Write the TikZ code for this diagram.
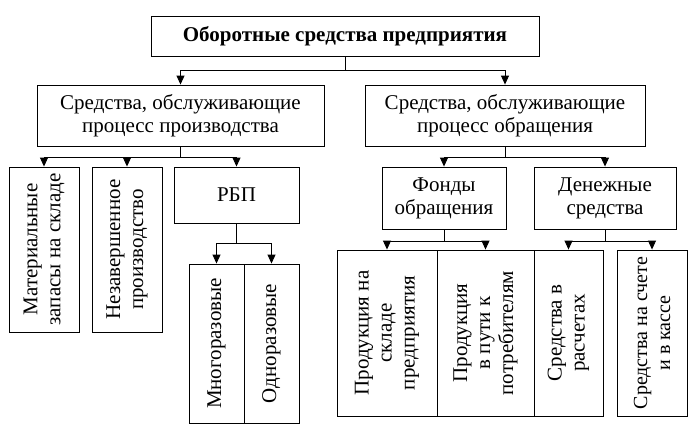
\documentclass[tikz,border=0pt]{standalone}
\usepackage{fontspec}
\setmainfont{Liberation Serif}
\usetikzlibrary{arrows.meta}

\tikzset{
  box/.style={draw, line width=0.9pt, align=center, inner sep=1pt,
    font=\fontsize{21}{23}\selectfont},
  vbox/.style={box, rotate=90},
  arr/.style={line width=0.9pt, -{Triangle[length=9pt,width=8pt]}},
}

\begin{document}
\begin{tikzpicture}[x=1pt,y=-1pt]
\useasboundingbox (0,0) rectangle (700,426);
% top level
\node[box, font=\fontsize{21}{23}\selectfont\bfseries, minimum width=388pt, minimum height=40pt] (top) at (345,36) {Оборотные средства предприятия};
\node[box, minimum width=287pt, minimum height=61pt] (prod) at (180.5,115.5) {Средства, обслуживающие\\процесс производства};
\node[box, minimum width=280pt, minimum height=61pt] (obr) at (505,115.5) {Средства, обслуживающие\\процесс обращения};
% production side
\node[vbox, minimum width=165pt, minimum height=70pt] (mat) at (44,249.5) {Материальные\\запасы на складе};
\node[vbox, minimum width=165pt, minimum height=70pt] (nez) at (127,249.5) {Незавершенное\\производство};
\node[box, minimum width=125pt, minimum height=56pt] (rbp) at (236.5,195) {РБП};
\node[vbox, minimum width=159pt, minimum height=55pt] (mnog) at (216.5,343.5) {Многоразовые};
\node[vbox, minimum width=159pt, minimum height=55pt] (odn) at (271.5,343.5) {Одноразовые};
% circulation side
\node[box, minimum width=124pt, minimum height=62pt] (fond) at (444,198) {Фонды\\обращения};
\node[box, minimum width=142pt, minimum height=62pt] (den) at (605,198) {Денежные\\средства};
\node[vbox, minimum width=166pt, minimum height=100pt] (sklad) at (387,333) {Продукция на\\складе\\предприятия};
\node[vbox, minimum width=166pt, minimum height=97pt] (put) at (485.5,333) {Продукция\\в пути к\\потребителям};
\node[vbox, minimum width=166pt, minimum height=69pt] (rasch) at (568.5,333) {Средства в\\расчетах};
\node[vbox, minimum width=166pt, minimum height=70pt, font=\fontsize{20}{23}\selectfont] (kassa) at (652,333) {Средства на счете\\и в кассе};
% connectors
\draw[arr] (top.south) -- +(0,14) -| (prod.north);
\draw[arr] (top.south) -- +(0,14) -| (obr.north);
\draw[arr] (prod.south) -- +(0,11) -| (mat.east);
\draw[arr] (prod.south) -- +(0,11) -| (nez.east);
\draw[arr] (prod.south) -- +(0,11) -| (rbp.north);
\draw[arr] (rbp.south) -- +(0,20) -| (mnog.east);
\draw[arr] (rbp.south) -- +(0,20) -| (odn.east);
\draw[arr] (obr.south) -- +(0,11) -| (fond.north);
\draw[arr] (obr.south) -- +(0,11) -| (den.north);
\draw[arr] (fond.south) -- +(0,12) -| (sklad.east);
\draw[arr] (fond.south) -- +(0,12) -| (put.east);
\draw[arr] (den.south) -- +(0,12) -| (rasch.east);
\draw[arr] (den.south) -- +(0,12) -| (kassa.east);
\end{tikzpicture}
\end{document}
